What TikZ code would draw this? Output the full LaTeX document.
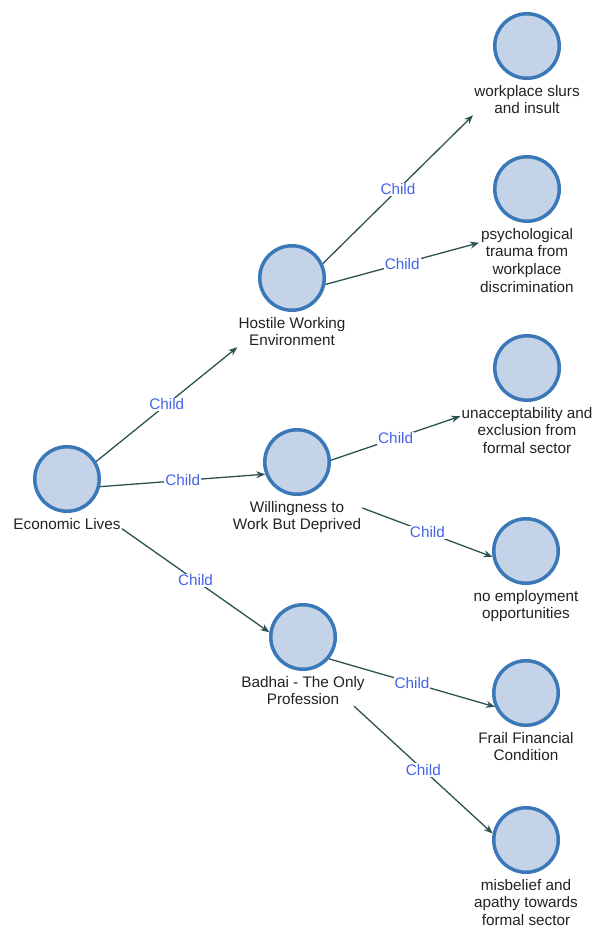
\documentclass[tikz,border=0pt]{standalone}
\usepackage{fontspec}
\setmainfont{Liberation Sans}
\usetikzlibrary{positioning,arrows.meta}

\definecolor{topicfill}{HTML}{C5D3E8}
\definecolor{topicline}{HTML}{3A78B8}
\definecolor{linkline}{HTML}{2E5252}
\definecolor{childblue}{HTML}{4664E6}
\definecolor{textgray}{HTML}{222222}

\begin{document}
\begin{tikzpicture}[
		x=1pt, y=-1pt,
		every node/.style={font=\fontsize{15.3}{17.6}\selectfont},
		topic/.style={circle, minimum size=64.5pt, inner sep=0pt, draw=topicline, line width=3.5pt, fill=topicfill},
		topic text/.style={align=center, inner sep=1pt, text=textgray},
		link/.style={draw=linkline, line width=1.3pt, -{Stealth[length=9pt, width=7pt]}},
		child/.style={fill=white, inner sep=1pt, text=childblue}
		]
	
	\useasboundingbox (0, 0) rectangle (594, 928);
	
	% Topics with their text below
	\foreach \name/\x/\y/\txt in {
			econ/67/479/{Economic Lives},
			hostile/292/278/{Hostile Working\\Environment},
			willing/297/462/{Willingness to\\Work But Deprived},
			badhai/303/637/{Badhai - The Only\\Profession},
			slurs/527/46/{workplace slurs\\and insult},
			trauma/527/189/{psychological\\trauma from\\workplace\\discrimination},
			exclusion/527/368/{unacceptability and\\exclusion from\\formal sector},
			noemploy/526/551/{no employment\\opportunities},
			frail/526/693/{Frail Financial\\Condition},
			misbelief/526/840/{misbelief and\\apathy towards\\formal sector}}{
		\node[topic] (\name) at (\x, \y) {};
		\node[topic text, below=4pt of \name] (\name-txt) {\txt};
	}
	
	% Child links
	\foreach \from/\to in {
			econ.31/hostile-txt.south west,
			econ.-13/willing.201,
			econ-txt.-5/badhai.172,
			hostile.25/slurs-txt.south west,
			hostile.-11/trauma-txt.160,
			willing.3/exclusion-txt.168,
			willing-txt.8/noemploy.190,
			badhai.-40/frail.204,
			badhai-txt.-17/misbelief.169}{
		\draw[link] (\from) -- node[child] {Child} (\to);
	}
	
\end{tikzpicture}
\end{document}
